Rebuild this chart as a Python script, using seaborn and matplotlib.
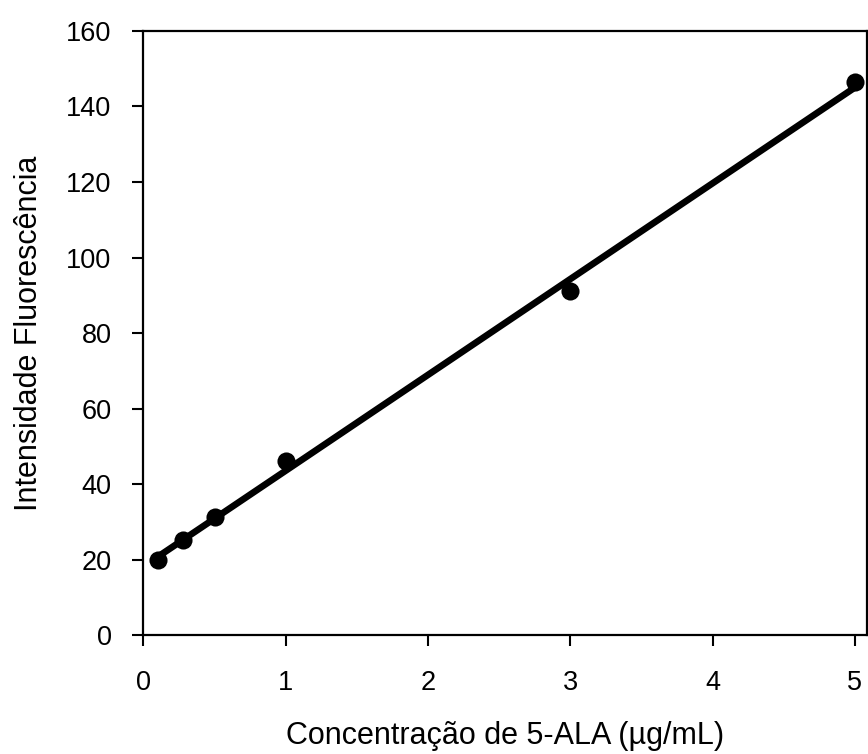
import matplotlib
matplotlib.use("Agg")
import matplotlib.pyplot as plt
import seaborn as sns
import pandas as pd
import numpy as np

# Data
concentration = [0.1, 0.28, 0.5, 1.0, 3.0, 5.0]
fluorescence = [19.8, 25.2, 31.2, 46.0, 91.0, 146.5]
x_ticks = [0, 1, 2, 3, 4, 5]
y_ticks = [0, 20, 40, 60, 80, 100, 120, 140, 160]

sns.set_theme(style="white")
plt.rcParams['font.family'] = ['Liberation Sans', 'DejaVu Sans']

df = pd.DataFrame({"x": concentration, "y": fluorescence})

fig = plt.figure(figsize=(8.68, 7.54), dpi=100)
ax = fig.add_axes([0.1653, 0.1578, 0.8335, 0.8011])

sns.regplot(data=df, x="x", y="y", ax=ax, ci=None, truncate=True,
            color="black",
            scatter_kws={"s": 170, "edgecolor": "black", "linewidths": 0, "alpha": 1},
            line_kws={"linewidth": 4.8, "solid_capstyle": "round"})

ax.set_xlim(0, 5.085)
ax.set_ylim(0, 160)
ax.set_xticks(x_ticks)
ax.set_yticks(y_ticks)
ax.tick_params(axis="both", which="major", direction="out", length=8, width=1.5,
               color="black", labelsize=19.5, labelcolor="black",
               bottom=True, left=True)
ax.tick_params(axis="y", pad=15)
ax.tick_params(axis="x", pad=17)

for s in ax.spines.values():
    s.set_visible(True)
    s.set_color("black")
    s.set_linewidth(1.6)

ax.set_xlabel("Concentração de 5-ALA (µg/mL)", fontsize=22, color="black", labelpad=18)
ax.set_ylabel("Intensidade Fluorescência", fontsize=22, color="black", labelpad=16)

fig.savefig("out.png", dpi=100)
